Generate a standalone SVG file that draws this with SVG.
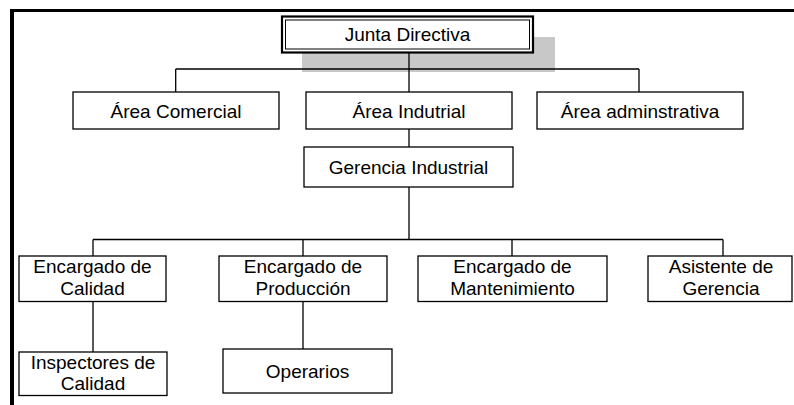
<svg xmlns="http://www.w3.org/2000/svg" width="794" height="405" viewBox="0 0 794 405">
<style>
.box{fill:#fff;stroke:#000;stroke-width:1.3}
.t{font-family:"Liberation Sans",Arial,sans-serif;font-size:19px;fill:#000;text-anchor:middle}
.c{fill:none;stroke:#000;stroke-width:1.3}
</style>
<rect x="0" y="0" width="794" height="405" fill="#fff"/>
<g id="frame" fill="none" stroke="#000">
<path d="M10 10.5H794" stroke-width="3"/>
<path d="M12 9V405" stroke-width="4"/>
</g>
<rect id="shadow" x="302" y="37" width="253" height="35" fill="#c8c8c8"/>
<g id="connectors">
<path class="c" d="M409 52V92M175.7 69H639M175.7 69V92M639 69V92"/>
<path class="c" d="M409 129V147"/>
<path class="c" d="M409 187V239.5" stroke-width="2"/>
<path class="c" d="M93 239.5H723M93 239.5V256M303 239.5V256M512 239.5V256M723 239.5V256"/>
<path class="c" d="M93 301V352M303 301V349"/>
</g>
<g id="junta">
<rect x="282" y="16.5" width="251" height="36" fill="#fff" stroke="#000" stroke-width="2.2"/>
<rect x="285.5" y="20" width="244" height="29" fill="none" stroke="#000" stroke-width="1"/>
<text class="t" x="407.5" y="41">Junta Directiva</text>
</g>
<g id="comercial">
<rect class="box" x="73" y="92" width="206" height="37"/>
<text class="t" x="176" y="117.5">Área Comercial</text>
</g>
<g id="industrial">
<rect class="box" x="306" y="92" width="206" height="37"/>
<text class="t" x="409" y="117.5">Área Indutrial</text>
</g>
<g id="administrativa">
<rect class="box" x="537" y="92" width="206" height="37"/>
<text class="t" x="640" y="117.5">Área adminstrativa</text>
</g>
<g id="gerencia">
<rect class="box" x="304" y="147" width="209" height="40"/>
<text class="t" x="408.5" y="174">Gerencia Industrial</text>
</g>
<g id="calidad">
<rect class="box" x="19" y="256" width="147" height="45.5"/>
<text class="t" x="92.5" y="272.5">Encargado de</text>
<text class="t" x="92.5" y="295">Calidad</text>
</g>
<g id="produccion">
<rect class="box" x="219" y="256" width="168" height="45.5"/>
<text class="t" x="303" y="272.5">Encargado de</text>
<text class="t" x="303" y="295">Producción</text>
</g>
<g id="mantenimiento">
<rect class="box" x="418" y="256" width="189" height="45.5"/>
<text class="t" x="512.5" y="272.5">Encargado de</text>
<text class="t" x="512.5" y="295">Mantenimiento</text>
</g>
<g id="asistente">
<rect class="box" x="648" y="256" width="144" height="45.5"/>
<text class="t" x="721" y="272.5">Asistente de</text>
<text class="t" x="721" y="295">Gerencia</text>
</g>
<g id="inspectores">
<rect class="box" x="19" y="352" width="148" height="43.5"/>
<text class="t" x="93" y="369">Inspectores de</text>
<text class="t" x="93" y="390">Calidad</text>
</g>
<g id="operarios">
<rect class="box" x="223" y="349" width="169" height="44"/>
<text class="t" x="307.5" y="377.5">Operarios</text>
</g>
</svg>
